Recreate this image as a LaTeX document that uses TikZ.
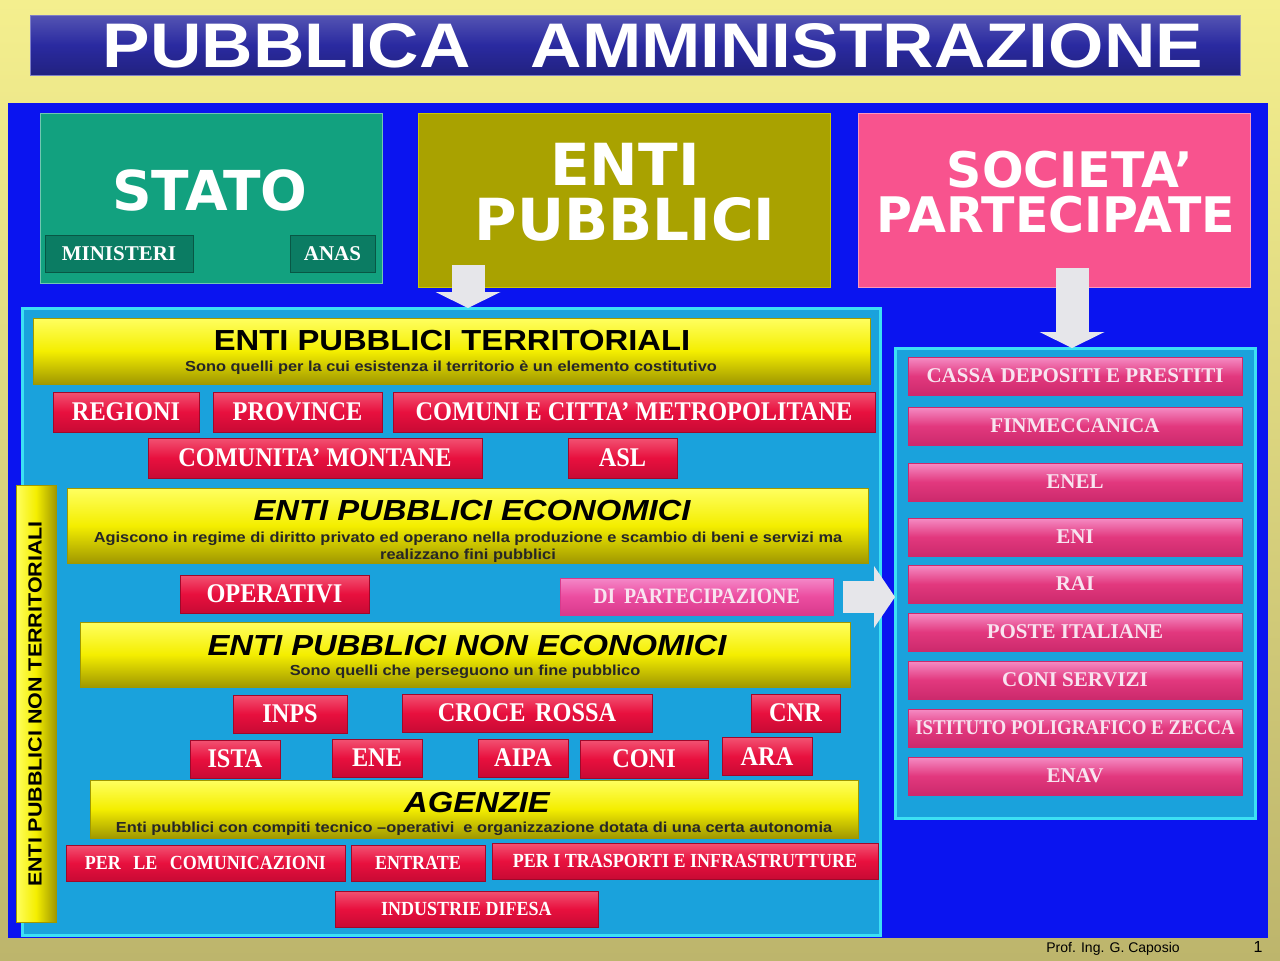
\documentclass[tikz,border=0pt]{standalone}
\usepackage{fontspec}
\setmainfont{Liberation Serif}
\newfontfamily\widesans{Liberation Sans}[FakeStretch=1.13]
\newfontfamily\heavysans{DejaVu Sans}
\newfontfamily\boxserif{Liberation Serif}[FakeStretch=0.9]
\newfontfamily\footsans{Liberation Sans}
\usetikzlibrary{arrows.meta}

\definecolor{pabgtop}{HTML}{F4EF8E}
\definecolor{pabgbot}{HTML}{BDB56C}
\definecolor{patitle}{HTML}{2A2AA0}
\definecolor{pablue}{HTML}{0A14F0}
\definecolor{pacyan}{HTML}{1AA2DC}
\definecolor{parim}{HTML}{3CE0F4}
\definecolor{pateal}{HTML}{12A17F}
\definecolor{patealdk}{HTML}{0B7C63}
\definecolor{paolive}{HTML}{A9A200}
\definecolor{papink}{HTML}{F8538E}
\definecolor{pared}{HTML}{E8103E}
\definecolor{paredlt}{HTML}{F25272}
\definecolor{pareddk}{HTML}{C80A34}
\definecolor{pagum}{HTML}{E2387E}
\definecolor{pagumlt}{HTML}{F58CC4}
\definecolor{pagumdk}{HTML}{CC2A6C}
\definecolor{pagumtxt}{HTML}{F8E4F0}
\definecolor{papart}{HTML}{EC4CA0}
\definecolor{papartlt}{HTML}{F488C8}
\definecolor{papartdk}{HTML}{D83A8C}
\definecolor{payel}{HTML}{F4EE00}
\definecolor{payellt}{HTML}{FFFF60}
\definecolor{payeldk}{HTML}{A09800}
\definecolor{paarrow}{HTML}{E6E6EA}

\tikzset{
  slab/.style={inner sep=0pt, outer sep=0pt},
  redbox/.style={slab, draw=pareddk!80!black, line width=0.5pt, top color=paredlt, bottom color=pareddk, middle color=pared, text=white, font=\boxserif\bfseries\fontsize{27}{27}\selectfont},
  smallred/.style={redbox, font=\boxserif\bfseries\fontsize{20}{20}\selectfont},
  partbox/.style={slab, draw=papartdk, line width=0.5pt, top color=papartlt, bottom color=papartdk, middle color=papart, text=pagumtxt, font=\boxserif\bfseries\fontsize{22}{22}\selectfont},
  gumbox/.style={slab, draw=pagumdk, line width=0.5pt, top color=pagumlt, bottom color=pagumdk, middle color=pagum, text=pagumtxt, font=\bfseries\fontsize{21}{21}\selectfont, minimum width=334, minimum height=38},
  header/.style={slab, draw=payeldk, line width=0.5pt, top color=payellt, bottom color=payeldk, middle color=payel},
  headtitle/.style={font=\widesans\bfseries\fontsize{29}{29}\selectfont},
  headitalic/.style={font=\widesans\bfseries\itshape\fontsize{29}{29}\selectfont},
  headsub/.style={font=\widesans\bfseries\fontsize{14.5}{17}\selectfont, align=center, text=black!85},
  panel/.style={slab, fill=pacyan, draw=parim, line width=3pt},
  bigbox/.style={slab, text=white, align=center},
  tealbox/.style={slab, fill=patealdk, draw=patealdk!70!black, text=white, font=\bfseries\fontsize{21}{21}\selectfont},
  blockarrow/.style={draw=paarrow, line width=33pt, -{Triangle[width=65pt,length=16pt,line width=0pt]}}
}

\begin{document}
\begin{tikzpicture}[x=1pt, y=-1pt]
  \useasboundingbox (0,0) rectangle (1280,961);
  \shade[top color=pabgtop, bottom color=pabgbot] (0,0) rectangle (1280,961);

  % Title bar.
  \node[slab, draw=patitle!60!white, line width=1pt, top color=patitle!80!white, bottom color=patitle!80!black, middle color=patitle, minimum width=1210, minimum height=60, anchor=north west] (titolo) at (30,15) {};
  \node[text=white, font=\widesans\bfseries\fontsize{63}{63}\selectfont] (titolotxt) at (653,46) {PUBBLICA\hspace{60pt}AMMINISTRAZIONE};

  % Main blue panel.
  \node[slab, fill=pablue, minimum width=1260, minimum height=835, anchor=north west] (fondo) at (8,103) {};

  % Top boxes.
  \node[slab, fill=pateal, draw=pateal!60!white, line width=1pt, minimum width=342, minimum height=170, anchor=north west] (stato) at (40,113) {};
  \node[bigbox, font=\heavysans\bfseries\fontsize{55}{55}\selectfont] (statotxt) at (210,190) {STATO};
  \node[tealbox, minimum width=148, minimum height=37] (ministeri) at (119,253.5) {MINISTERI};
  \node[tealbox, minimum width=85, minimum height=37] (anas) at (332.5,253.5) {ANAS};

  \node[slab, fill=paolive, draw=paolive!60!yellow, line width=1pt, minimum width=412, minimum height=174, anchor=north west] (entipub) at (418,113) {};
  \node[bigbox, font=\heavysans\bfseries\fontsize{58}{55}\selectfont] (entipubtxt) at (625,192.5) {ENTI\\PUBBLICI};

  \node[slab, fill=papink, draw=papink!60!white, line width=1pt, minimum width=392, minimum height=174, anchor=north west] (societa) at (858,113) {};
  \node[bigbox, font=\heavysans\bfseries\fontsize{49}{45}\selectfont] (societatxt) at (1056,192.5) {\hspace*{28pt}SOCIETA’\\PARTECIPATE};

  % Cyan panels.
  \node[panel, minimum width=858, minimum height=627, anchor=north west] (panelEP) at (22,308) {};
  \node[panel, minimum width=360, minimum height=470, anchor=north west] (panelSP) at (895,348) {};

  % Enti pubblici territoriali.
  \node[header, minimum width=837, minimum height=66, anchor=north west] (terr) at (33,318) {};
  \node[headtitle] (terrtit) at (452,341) {ENTI PUBBLICI TERRITORIALI};
  \node[headsub] (terrsub) at (451,368) {Sono quelli per la cui esistenza il territorio è un elemento costitutivo};
  \foreach \nome/\xc/\yc/\larg/\testo in {regioni/126/412/146/REGIONI, province/297.5/412/169/PROVINCE,
      comuni/634/412/482/COMUNI E CITTA’ METROPOLITANE, montane/315/458/334/COMUNITA’ MONTANE, asl/622.5/458/109/ASL}
    \node[redbox, minimum width=\larg, minimum height=40] (\nome) at (\xc,\yc) {\testo};

  % Enti pubblici non territoriali.
  \node[slab, draw=payeldk, line width=0.5pt, left color=payellt, right color=payeldk, middle color=payel, minimum width=40, minimum height=437, anchor=north west] (nonterr) at (16,485) {};
  \node[rotate=90, font=\widesans\bfseries\fontsize{19}{19}\selectfont] (nonterrtxt) at (35,704) {ENTI PUBBLICI NON TERRITORIALI};

  % Enti pubblici economici.
  \node[header, minimum width=801, minimum height=75, anchor=north west] (econ) at (67,488) {};
  \node[headitalic] (econtit) at (472,511) {ENTI PUBBLICI ECONOMICI};
  \node[headsub] (econsub) at (468,547) {Agiscono in regime di diritto privato ed operano nella produzione e scambio di beni e servizi ma\\realizzano fini pubblici};
  \node[redbox, minimum width=189, minimum height=38] (operativi) at (274.5,594) {OPERATIVI};
  \node[partbox, minimum width=273, minimum height=37] (partecip) at (696.5,596.5) {DI\hspace{0.4em}PARTECIPAZIONE};

  % Enti pubblici non economici.
  \node[header, minimum width=770, minimum height=65, anchor=north west] (nonecon) at (80,622) {};
  \node[headitalic] (noncontit) at (467,646) {ENTI PUBBLICI NON ECONOMICI};
  \node[headsub] (nonconsub) at (465,672) {Sono quelli che perseguono un fine pubblico};
  \foreach \nome/\xc/\yc/\larg/\testo in {inps/290/714/114/INPS, croce/527/713/250/CROCE\hspace{0.35em}ROSSA, cnr/795.5/713/89/CNR,
      ista/235/759/90/ISTA, ene/377/758/90/ENE, aipa/523/758/90/AIPA, coni/644/759/128/CONI, ara/767/756.5/90/ARA}
    \node[redbox, minimum width=\larg, minimum height=38] (\nome) at (\xc,\yc) {\testo};

  % Agenzie.
  \node[header, minimum width=768, minimum height=58, anchor=north west] (agenzie) at (90,780) {};
  \node[headitalic] (agentit) at (477,803) {AGENZIE};
  \node[headsub] (agensub) at (474,829) {Enti pubblici con compiti tecnico –operativi\hspace{0.3em} e organizzazione dotata di una certa autonomia};
  \foreach \nome/\xc/\yc/\larg/\testo in {comunic/205.5/863/279/PER\hspace{0.4em} LE\hspace{0.4em} COMUNICAZIONI, entrate/418/863/134/ENTRATE,
      trasporti/685/861/386/PER I TRASPORTI E INFRASTRUTTURE, difesa/466.5/909/263/INDUSTRIE DIFESA}
    \node[smallred, minimum width=\larg, minimum height=36] (\nome) at (\xc,\yc) {\testo};

  % Societa' partecipate.
  \foreach \nome/\yc/\testo in {cdp/376/CASSA DEPOSITI E PRESTITI, finmecc/426/FINMECCANICA, enel/482/ENEL, eni/537/ENI,
      rai/584/RAI, poste/632/POSTE ITALIANE, coniserv/680/CONI SERVIZI, zecca/728/{\boxserif ISTITUTO POLIGRAFICO E ZECCA}, enav/776/ENAV}
    \node[gumbox] (\nome) at (1075,\yc) {\testo};

  % Arrows.
  \coordinate (epA) at (468,265);
  \draw[blockarrow] (epA) -- (epA |- panelEP.north);
  \coordinate (spA) at (1072,268);
  \draw[blockarrow] (spA) -- (spA |- panelSP.north);
  \coordinate (dpA) at (843,597);
  \draw[blockarrow, line width=32pt, -{Triangle[width=62pt,length=21pt,line width=0pt]}] (dpA) -- (dpA -| panelSP.west);

  % Footer.
  \node[font=\footsans\fontsize{14}{14}\selectfont] (autore) at (1113,949) {Prof. Ing. G. Caposio};
  \node[font=\footsans\fontsize{16}{16}\selectfont] (pagina) at (1258,947) {1};
\end{tikzpicture}
\end{document}
